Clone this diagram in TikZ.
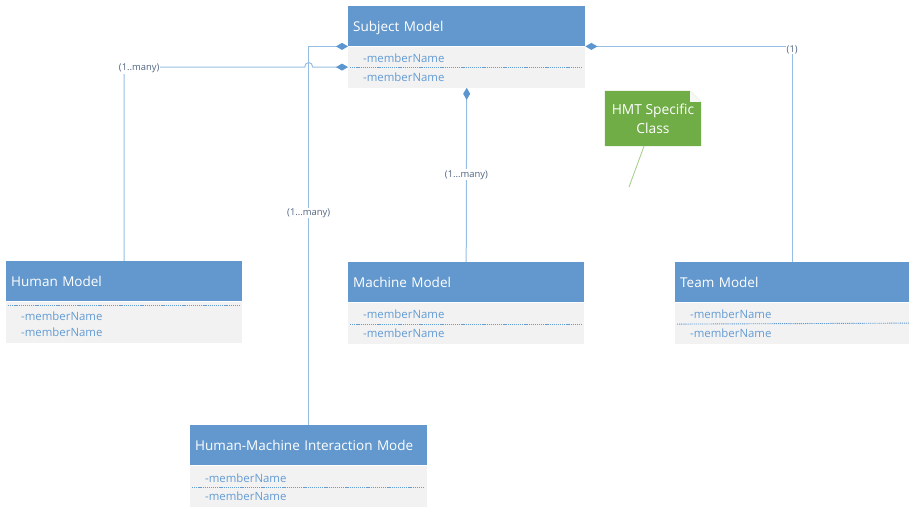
\documentclass[tikz,border=0pt]{standalone}
\usepackage{fontspec}
\setsansfont{Open Sans}
\usetikzlibrary{positioning, arrows.meta, calc, backgrounds}
\definecolor{hdrblue}{RGB}{98,152,205}
\definecolor{bdygray}{RGB}{242,242,242}
\definecolor{fldblue}{RGB}{100,156,212}
\definecolor{lnblue}{RGB}{150,190,228}
\definecolor{dmblue}{RGB}{91,150,208}
\definecolor{lbgray}{RGB}{80,100,130}
\definecolor{hmtgreen}{RGB}{112,173,71}
\definecolor{hmtline}{RGB}{169,209,142}
\definecolor{hmtfold}{RGB}{246,249,243}
\tikzset{
  HD/.style={fill=hdrblue,rectangle,minimum height=40pt,inner xsep=5pt,inner ysep=0pt,text height=12pt,text depth=1pt,text width=#1,align=left,font=\sffamily\fontsize{13.5}{16}\selectfont\color{white}},
  BD/.style={fill=bdygray,rectangle,minimum width=#1,minimum height=41pt,inner sep=0pt},
  FD/.style={anchor=west,inner sep=0pt,font=\sffamily\fontsize{11.4}{13}\selectfont\color{fldblue}},
  DT/.style={draw=fldblue,line width=0.9pt,dash pattern=on 1.2pt off 0.9pt},
  CN/.style={draw=lnblue,line width=1pt,{Diamond[length=12pt,width=7pt,color=dmblue,fill=dmblue]}-},
  lb/.style={font=\sffamily\fontsize{9.4}{11}\selectfont\color{lbgray},fill=white,inner sep=1pt},
  NT/.style={minimum width=96pt,minimum height=55pt,inner sep=2pt,align=center,font=\sffamily\fontsize{13.8}{19}\selectfont\color{white}},
}
\begin{document}
\begin{tikzpicture}[x=1pt,y=-1pt]
\useasboundingbox (0,0) rectangle (909,506);

% Classes
\node[HD=227pt,anchor=north west](subj)    at (348,6)  {Subject Model};
\node[BD=237pt,below=0pt of subj](subjb) {};
\node[HD=226pt,anchor=north west](human)   at (6,261)  {Human Model};
\node[BD=236pt,below=0pt of human](humanb) {};
\node[HD=226pt,anchor=north west](machine) at (348,262){Machine Model};
\node[BD=236pt,below=0pt of machine](machineb) {};
\node[HD=224pt,anchor=north west](team)    at (675,262){Team Model};
\node[BD=234pt,below=0pt of team](teamb) {};
\node[HD=227pt,anchor=north west](hmi)     at (190,425){Human-Machine Interaction Mode};
\node[BD=237pt,below=0pt of hmi](hmib) {};

% Members
\node[FD](subjf1) at ($(subjb.north west)+(15,12)$) {-memberName};
\draw[DT] ($(subjb.west)+(2,0)$) -- ($(subjb.east)+(-3,0)$);
\node[FD](subjf2) at ($(subjb.north west)+(15,31)$) {-memberName};

\draw[DT] ($(humanb.north west)+(2,4)$) -- ($(humanb.north east)+(-3,4)$);
\node[FD](humanf1) at ($(humanb.north west)+(15,15)$) {-memberName};
\node[FD](humanf2) at ($(humanb.north west)+(15,31)$) {-memberName};

\node[FD](machinef1) at ($(machineb.north west)+(15,12)$) {-memberName};
\draw[DT] ($(machineb.west)+(2,1)$) -- ($(machineb.east)+(-3,1)$);
\node[FD](machinef2) at ($(machineb.north west)+(15,31)$) {-memberName};

\node[FD](teamf1) at ($(teamb.north west)+(15,12)$) {-memberName};
\draw[DT] ($(teamb.west)+(2,1)$) -- (teamb.east);
\node[FD](teamf2) at ($(teamb.north west)+(15,31)$) {-memberName};

\node[FD](hmif1) at ($(hmib.north west)+(15,13)$) {-memberName};
\draw[DT] ($(hmib.west)+(2,1)$) -- ($(hmib.east)+(-3,1)$);
\node[FD](hmif2) at ($(hmib.north west)+(15,31)$) {-memberName};

% Note
\node[NT](note) at (653,118.5) {HMT Specific\\Class};
\begin{scope}[on background layer]
\fill[hmtgreen] (note.north west) -- ($(note.north east)+(-11,0)$) -- ($(note.north east)+(0,11)$) -- (note.south east) -- (note.south west) -- cycle;
\fill[hmtfold] ($(note.north east)+(-11,0)$) -- ($(note.north east)+(-11,11)$) -- ($(note.north east)+(0,11)$) -- cycle;
\end{scope}
\coordinate (ntend) at (629,187);
\draw[hmtline,line width=0.9pt] ($(note.south)+(-9,0)$) -- (ntend);

% Associations
\draw[CN](subj.south west) -| node[lb,pos=0.72]{(1...many)} (hmi.north);
\draw[CN](subjb.west) -- ($(hmi.north |- subjb.west)+(4,0)$)
  .. controls +(0,-6) and +(0,-6) .. ($(hmi.north |- subjb.west)+(-4,0)$)
  -| node[lb,pos=0.5,xshift=15pt,yshift=-1pt]{(1..many)} (human.north);
\draw[CN](subj.south east) -| node[lb,pos=0.5,yshift=-3pt]{(1)} (team.north);
\draw[CN](subjb.south) -- node[lb]{(1...many)} (machine.north);

\end{tikzpicture}
\end{document}
